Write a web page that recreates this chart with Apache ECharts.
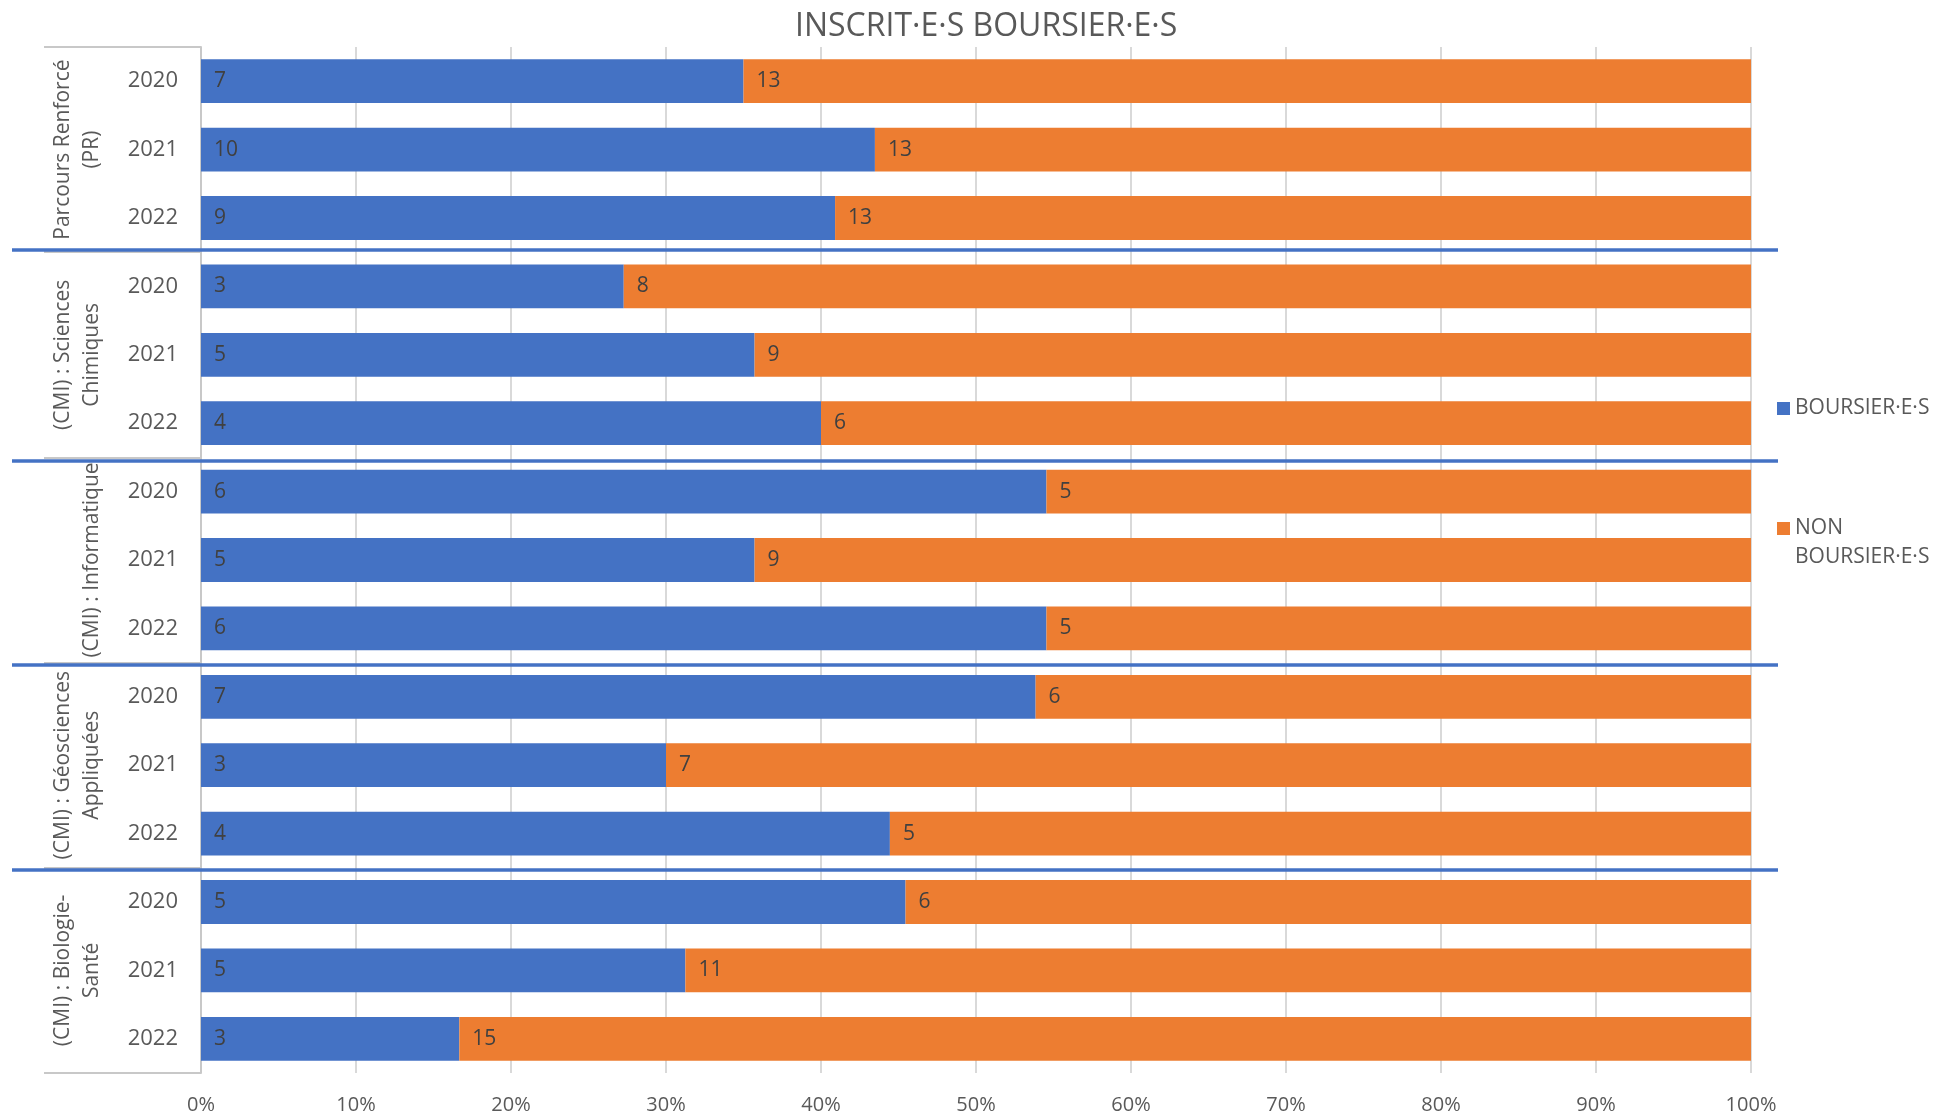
<!DOCTYPE html>
<html>
<head>
<meta charset="utf-8">
<script src="https://cdn.jsdelivr.net/npm/echarts@6/dist/echarts.min.js"></script>
<style>
  html, body { margin: 0; padding: 0; background: #fff; }
  #chart { width: 1934px; height: 1116px; }
</style>
</head>
<body>
<div id="chart"></div>
<script>
// groupes (niveau 1 de l'axe) et années (niveau 2)
const groups = [
  'Parcours Renforcé\n(PR)',
  '(CMI) : Sciences\nChimiques',
  '(CMI) : Informatique',
  '(CMI) : Géosciences\nAppliquées',
  '(CMI) : Biologie-\nSanté'
];
const years = ['2020', '2021', '2022'];
// effectifs par ligne (groupe x année, de haut en bas)
const boursiers = [7, 10, 9, 3, 5, 4, 6, 5, 6, 7, 3, 4, 5, 5, 3];
const nonBoursiers = [13, 13, 13, 8, 9, 6, 5, 9, 5, 6, 7, 5, 6, 11, 15];
const xTicks = [0, 10, 20, 30, 40, 50, 60, 70, 80, 90, 100];

const FONT = '"Open Sans", "Noto Sans", sans-serif';
const GREY = '#595959';

// catégories : années répétées pour chaque groupe
const rows = [];
groups.forEach(() => years.forEach(y => rows.push(y)));

// empilement 100 %
const totals = boursiers.map((b, i) => b + nonBoursiers[i]);
const pctB = boursiers.map((b, i) => b / totals[i] * 100);
const pctN = nonBoursiers.map((n, i) => n / totals[i] * 100);

const chart = echarts.init(document.getElementById('chart'));

// traits bleus séparant les groupes (formes dessinées à la main dans l'original)
const sepY = [250, 461, 665, 870];
const separators = sepY.map(y => ({
  type: 'line',
  z: 100,
  shape: { x1: 12, y1: y, x2: 1778, y2: y },
  style: { stroke: '#4472C4', lineWidth: 3.5 }
}));

const labelStyle = (counts) => ({
  show: true,
  position: 'insideLeft',
  distance: 13,
  color: '#404040',
  fontSize: 21,
  fontFamily: FONT,
  formatter: p => counts[p.dataIndex]
});

chart.setOption({
  animation: false,
  title: {
    text: 'INSCRIT·E·S BOURSIER·E·S',
    left: 790,
    top: 6,
    textStyle: { color: GREY, fontSize: 32, fontWeight: 'normal', fontFamily: FONT }
  },
  legend: [
    {
      data: ['BOURSIER·E·S'],
      orient: 'vertical',
      left: 1772,
      top: 393,
      icon: 'rect',
      itemWidth: 13,
      itemHeight: 13,
      textStyle: { color: GREY, fontSize: 21, fontFamily: FONT }
    },
    {
      data: ['NON BOURSIER·E·S'],
      orient: 'vertical',
      left: 1772,
      top: 480,
      icon: 'rect',
      itemWidth: 13,
      itemHeight: 13,
      // ligne vide en tête pour aligner le carré sur « NON »
      formatter: name => ' \n' + name.replace(' ', '\n'),
      textStyle: { color: GREY, fontSize: 21, lineHeight: 29, fontFamily: FONT }
    }
  ],
  grid: { left: 201, right: 183, top: 47, bottom: 43 },
  xAxis: {
    type: 'value',
    min: 0,
    max: 100,
    interval: 10,
    axisLine: { show: false },
    axisTick: { show: false },
    axisLabel: {
      color: GREY,
      fontSize: 20,
      fontFamily: FONT,
      margin: 22,
      formatter: v => (xTicks.includes(v) ? v + '%' : '')
    },
    splitLine: { lineStyle: { color: '#d9d9d9', width: 2 } }
  },
  yAxis: [
    {
      type: 'category',
      data: rows,
      inverse: true,
      position: 'left',
      axisLine: { lineStyle: { color: '#c8c8c8', width: 2 } },
      axisTick: { show: false },
      axisLabel: { color: GREY, fontSize: 22, fontFamily: FONT, margin: 23, interval: 0 }
    },
    {
      type: 'category',
      data: groups,
      inverse: true,
      position: 'left',
      offset: 0,
      axisLine: { show: false },
      axisTick: { show: true, length: 157, lineStyle: { color: '#c8c8c8', width: 2 } },
      axisLabel: {
        color: GREY,
        fontSize: 21,
        fontFamily: FONT,
        lineHeight: 29,
        rotate: 90,
        margin: 94,
        interval: 0
      }
    }
  ],
  series: [
    {
      name: 'BOURSIER·E·S',
      type: 'bar',
      stack: 'total',
      yAxisIndex: 0,
      barCategoryGap: '36%',
      itemStyle: { color: '#4472C4' },
      label: labelStyle(boursiers),
      data: pctB
    },
    {
      name: 'NON BOURSIER·E·S',
      type: 'bar',
      stack: 'total',
      yAxisIndex: 0,
      barCategoryGap: '36%',
      itemStyle: { color: '#ED7D31' },
      label: labelStyle(nonBoursiers),
      data: pctN
    }
  ],
  graphic: separators
});
</script>
</body>
</html>
